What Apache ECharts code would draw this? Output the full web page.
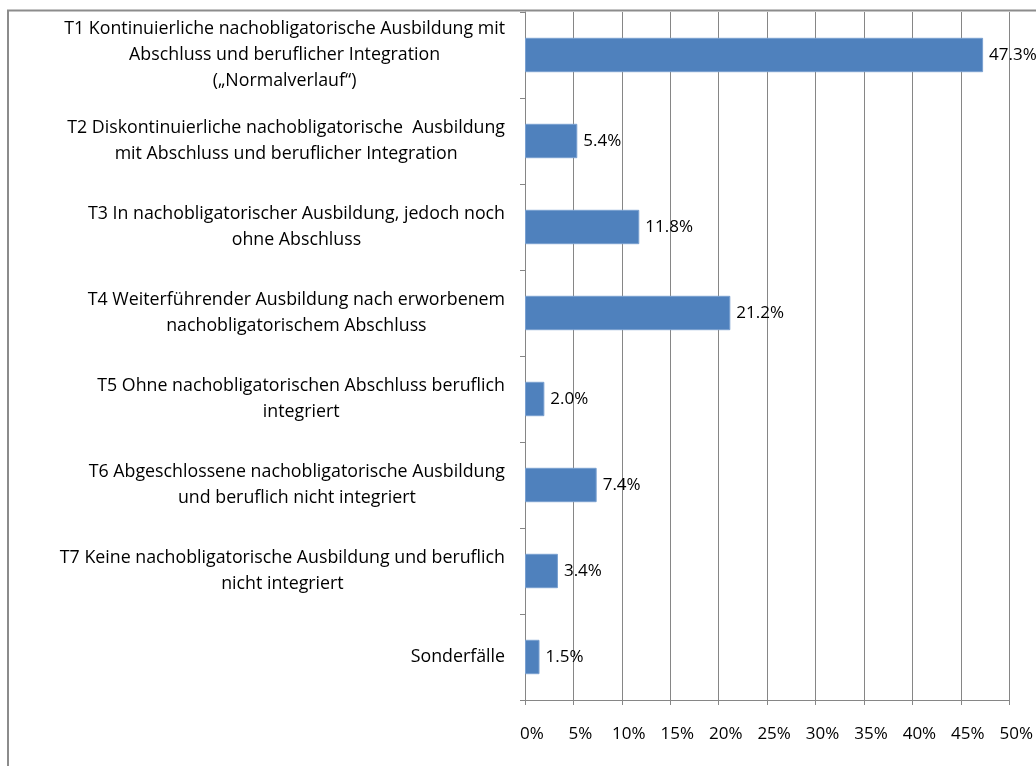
<!DOCTYPE html>
<html><head><meta charset="utf-8">
<script src="https://cdn.jsdelivr.net/npm/echarts@6/dist/echarts.min.js"></script>
<style>html,body{margin:0;padding:0;background:#fff}#c{width:1036px;height:766px}</style>
</head><body><div id="c"></div>
<script>
const categories = [
  "T1 Kontinuierliche nachobligatorische Ausbildung mit\nAbschluss und beruflicher Integration\n(„Normalverlauf“)",
  "T2 Diskontinuierliche nachobligatorische  Ausbildung\nmit Abschluss und beruflicher Integration",
  "T3 In nachobligatorischer Ausbildung, jedoch noch\nohne Abschluss",
  "T4 Weiterführender Ausbildung nach erworbenem\nnachobligatorischem Abschluss",
  "T5 Ohne nachobligatorischen Abschluss beruflich\nintegriert",
  "T6 Abgeschlossene nachobligatorische Ausbildung\nund beruflich nicht integriert",
  "T7 Keine nachobligatorische Ausbildung und beruflich\nnicht integriert",
  "Sonderfälle"
];
const values = [47.3, 5.4, 11.8, 21.2, 2.0, 7.4, 3.4, 1.5];
const xTickMax = 50, xTickStep = 5;

const FONT = '"Open Sans"';
const FS = 17.8;
const chart = echarts.init(document.getElementById('c'), null, {renderer: 'canvas'});
chart.setOption({
  animation: false,
  textStyle: {fontFamily: FONT},
  graphic: [{
    type: 'polyline', silent: true,
    shape: {points: [[8, 800], [8, 10.5], [1100, 10.5]]},
    style: {stroke: '#8c8c8c', lineWidth: 2, fill: null}
  }],
  grid: {left: 525, right: 26, top: 12, bottom: 66, containLabel: false},
  xAxis: {
    type: 'value', min: 0, max: xTickMax, interval: xTickStep,
    axisLine: {show: true, lineStyle: {color: '#868686'}},
    axisTick: {show: true, length: 5, lineStyle: {color: '#868686'}},
    splitLine: {show: true, lineStyle: {color: '#868686', width: 1}},
    axisLabel: {formatter: '{value}%', color: '#000', fontSize: 17, fontFamily: FONT, margin: 26, padding: [0, 0, 0, 14]}
  },
  yAxis: {
    type: 'category', inverse: true, data: categories,
    axisLine: {show: true, lineStyle: {color: '#868686'}},
    axisTick: {show: true, length: 5, lineStyle: {color: '#868686'}},
    axisLabel: {
      color: '#000', fontSize: FS, fontFamily: FONT, margin: 20, align: 'right',
      lineHeight: 26,
      formatter: v => v.split('\n').map(l => '{c|' + l + '}').join('\n'),
      rich: {c: {align: 'center', fontSize: FS, fontFamily: FONT, lineHeight: 26, color: '#000'}}
    }
  },
  series: [{
    type: 'bar', data: values, barCategoryGap: '60%',
    itemStyle: {color: '#4F81BD', borderColor: '#7aa0d0', borderWidth: 1},
    label: {show: true, position: 'right', distance: 6, formatter: p => p.value.toFixed(1) + '%',
      color: '#000', fontSize: 17, fontFamily: FONT}
  }]
});
</script></body></html>
